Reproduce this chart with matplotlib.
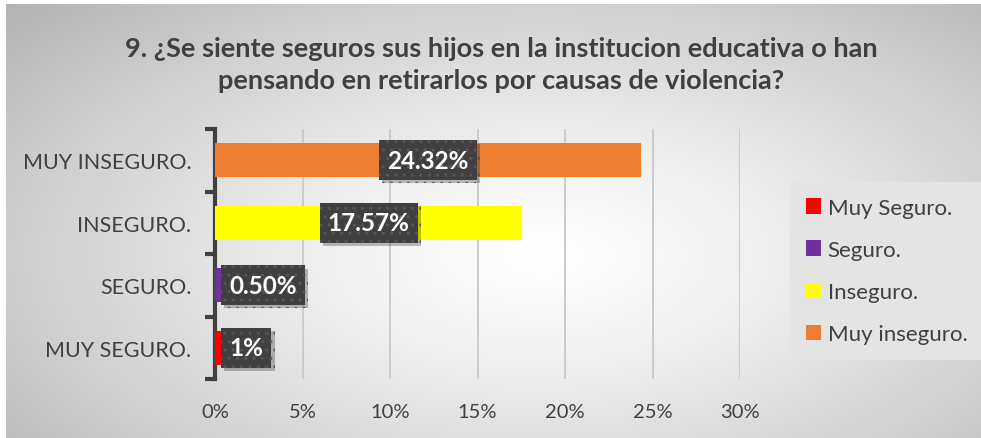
import numpy as np
import matplotlib
matplotlib.use("Agg")
import matplotlib.pyplot as plt
from matplotlib.patches import Patch
import matplotlib.patheffects as pe

plt.rcParams['font.family'] = ['Lato', 'DejaVu Sans']

categories = ["MUY SEGURO.", "SEGURO.", "INSEGURO.", "MUY INSEGURO."]
values = [0.35, 0.35, 17.57, 24.32]
value_labels = ["1%", "0.50%", "17.57%", "24.32%"]
colors = ["#ff0000", "#7030a0", "#ffff00", "#ed7d31"]
legend_labels = ["Muy Seguro.", "Seguro.", "Inseguro.", "Muy inseguro."]
xticks = [0, 5, 10, 15, 20, 25, 30]
title = "9. ¿Se siente seguros sus hijos en la institucion educativa o han\npensando en retirarlos por causas de violencia?"

W, H = 981, 439
fig = plt.figure(figsize=(W / 100, H / 100), dpi=100)
fig.patch.set_facecolor("white")

# background gradient
bg = fig.add_axes([6 / W, 0, 1 - 6 / W, 1 - 5 / H])
bg.set_axis_off()
yy, xx = np.mgrid[0:1:300j, 0:1:600j]
d = np.sqrt(((xx - 0.55) / 0.75) ** 2 + ((yy - 0.58) / 0.85) ** 2)
g = np.clip(1 - 0.3 * d ** 1.3, 0, 1)
img = np.dstack([g, g, g])
bg.imshow(img, extent=[0, 1, 0, 1], aspect="auto", origin="upper")
bg.set_xlim(0, 1)
bg.set_ylim(0, 1)

fig.text(501 / W, 1 - 65 / H, title, ha="center", va="center", fontsize=19.5,
         fontweight="bold", color="#404040", linespacing=1.42)

x0, x1 = 215, 740
ytop, ybot = 130, 380
ax = fig.add_axes([x0 / W, 1 - ybot / H, (x1 - x0) / W, (ybot - ytop) / H])
ax.patch.set_alpha(0)
ypos = np.arange(len(categories))
ax.barh(ypos, values, height=0.54, color=colors, zorder=3)
ax.set_xlim(0, 30)
ax.set_ylim(-0.5, len(categories) - 0.5)
ax.set_xticks(xticks)
ax.set_xticklabels([f"{t}%" for t in xticks], fontsize=14.5, color="#404040")
ax.set_yticks(ypos)
ax.set_yticklabels(categories, fontsize=15.5, color="#404040")
ax.tick_params(axis="y", length=0, pad=17)
ax.tick_params(axis="x", length=0, pad=17)
for s in ["top", "right", "bottom"]:
    ax.spines[s].set_visible(False)
ax.spines["left"].set_color("#404040")
ax.spines["left"].set_linewidth(3)
ax.grid(axis="x", color="#c8c8c8", linewidth=1.3, zorder=0)
# category boundary ticks
ax.set_yticks(np.arange(-0.5, len(categories)), minor=True)
ax.tick_params(axis="y", which="minor", length=7, width=3, color="#404040", direction="out")

for i, (v, lab) in enumerate(zip(values, value_labels)):
    if v > 5:
        x, ha = v / 2, "center"
    else:
        x, ha = v + 0.45, "left"
    t = ax.text(x, i, lab, ha=ha, va="center", fontsize=17.5, fontweight="bold",
                color="white", zorder=5,
                bbox=dict(boxstyle="square,pad=0.34", facecolor="#404040", edgecolor="#575757",
                          linewidth=0, hatch=".."))
    t.get_bbox_patch().set_path_effects([
        pe.SimplePatchShadow(offset=(2.5, -2.5), shadow_rgbFace="black", alpha=0.25),
        pe.Normal()])

handles = [Patch(facecolor=c, edgecolor="none") for c in colors]
leg = fig.legend(handles, legend_labels, loc="center left", bbox_to_anchor=(790 / W, 1 - 272 / H),
                 frameon=True, fontsize=16, labelcolor="#404040", handlelength=0.7,
                 handleheight=0.7, handletextpad=0.3, labelspacing=1.0, borderpad=0.7,
                 borderaxespad=0, fancybox=False)
leg.get_frame().set_facecolor("#e4e4e4")
leg.get_frame().set_edgecolor("none")
leg.get_frame().set_alpha(1)

fig.savefig("out.png", dpi=100)
